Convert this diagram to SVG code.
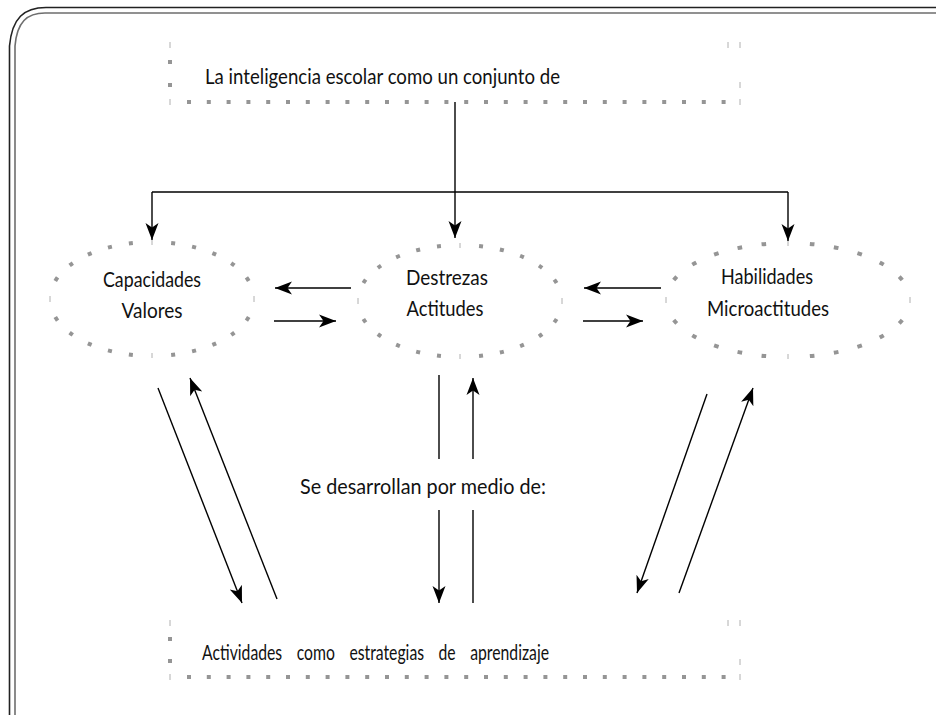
<svg xmlns="http://www.w3.org/2000/svg" width="936" height="715" viewBox="0 0 936 715">
<style>
.txt{font-family:"Lato","Carlito","Liberation Sans",sans-serif;font-size:21px;fill:#111}
.dots{fill:none;stroke:#959595;stroke-width:4;stroke-linecap:butt}
.tick{stroke:#b0b0b0;stroke-width:1}
.sq{fill:#959595}
.con{fill:none;stroke:#000;stroke-width:1.4}
.arr{marker-end:url(#ah)}
</style>
<defs>
<marker id="ah" markerUnits="userSpaceOnUse" markerWidth="20" markerHeight="16" refX="17" refY="7" orient="auto">
<path d="M0,0.5 L17,7 L0,13.5 L4.5,7 Z" fill="#000"/>
</marker>
</defs>
<rect width="936" height="715" fill="#fff"/>
<g id="frame" fill="none">
<path d="M936,7.5 H46 C24,7.5 12,18 9.5,46 V715" stroke="#222" stroke-width="1.6"/>
<path d="M936,13 H45 C27,13 17,22 15,46 V715" stroke="#6e6e6e" stroke-width="1.6"/>
</g>
<g id="node-top">
<line class="tick" x1="170" y1="42" x2="170" y2="48"/>
<line class="tick" x1="728" y1="42" x2="728" y2="48"/>
<line class="tick" x1="740" y1="42" x2="740" y2="48"/>
<line class="tick" x1="740" y1="82" x2="740" y2="88"/>
<line class="tick" x1="170" y1="99" x2="170" y2="105"/>
<line class="tick" x1="740" y1="99" x2="740" y2="105"/>
<rect class="sq" x="168" y="60" width="4" height="4"/>
<rect class="sq" x="168" y="83" width="4" height="4"/>
<line class="dots" x1="187" y1="102" x2="726" y2="102" stroke-dasharray="4 15.8"/>
<text class="txt" x="205" y="84" textLength="355" lengthAdjust="spacingAndGlyphs">La inteligencia escolar como un conjunto de</text>
</g>
<g id="node-capacidades">
<path class="dots" pathLength="24" stroke-dasharray="0 0.905 0.19 0.81 0.19 0.81 0.19 0.81 0.19 0.81 0.19 0.905" d="M152,242 A102,57 0 0 1 254,299 A102,57 0 0 1 152,356 A102,57 0 0 1 50,299 A102,57 0 0 1 152,242 Z"/>
<line class="tick" x1="152" y1="240" x2="152" y2="245"/>
<line class="tick" x1="152" y1="353" x2="152" y2="358"/>
<line class="tick" x1="50" y1="296" x2="50" y2="302"/>
<line class="tick" x1="254" y1="296" x2="254" y2="302"/>
<text class="txt" x="103" y="287" textLength="98" lengthAdjust="spacingAndGlyphs">Capacidades</text>
<text class="txt" x="121.5" y="318" textLength="61" lengthAdjust="spacingAndGlyphs">Valores</text>
</g>
<g id="node-destrezas">
<path class="dots" pathLength="24" stroke-dasharray="0 0.905 0.19 0.81 0.19 0.81 0.19 0.81 0.19 0.81 0.19 0.905" d="M460,245 A102,56 0 0 1 562,301 A102,56 0 0 1 460,357 A102,56 0 0 1 358,301 A102,56 0 0 1 460,245 Z"/>
<line class="tick" x1="460" y1="243" x2="460" y2="248"/>
<line class="tick" x1="460" y1="354" x2="460" y2="359"/>
<line class="tick" x1="358" y1="298" x2="358" y2="304"/>
<line class="tick" x1="562" y1="298" x2="562" y2="304"/>
<text class="txt" x="406" y="285" textLength="82" lengthAdjust="spacingAndGlyphs">Destrezas</text>
<text class="txt" x="406.5" y="316" textLength="77" lengthAdjust="spacingAndGlyphs">Actitudes</text>
</g>
<g id="node-habilidades">
<path class="dots" pathLength="24" stroke-dasharray="0 0.905 0.19 0.81 0.19 0.81 0.19 0.81 0.19 0.81 0.19 0.905" d="M788,243 A122,57 0 0 1 910,300 A122,57 0 0 1 788,357 A122,57 0 0 1 666,300 A122,57 0 0 1 788,243 Z"/>
<line class="tick" x1="788" y1="241" x2="788" y2="246"/>
<line class="tick" x1="788" y1="354" x2="788" y2="359"/>
<line class="tick" x1="666" y1="297" x2="666" y2="303"/>
<line class="tick" x1="910" y1="297" x2="910" y2="303"/>
<text class="txt" x="721" y="284" textLength="92" lengthAdjust="spacingAndGlyphs">Habilidades</text>
<text class="txt" x="707" y="316" textLength="122" lengthAdjust="spacingAndGlyphs">Microactitudes</text>
</g>
<g id="node-bottom">
<line class="tick" x1="170" y1="620" x2="170" y2="626"/>
<line class="tick" x1="728" y1="620" x2="728" y2="626"/>
<line class="tick" x1="740" y1="620" x2="740" y2="626"/>
<line class="tick" x1="740" y1="659" x2="740" y2="665"/>
<line class="tick" x1="170" y1="674" x2="170" y2="680"/>
<line class="tick" x1="740" y1="674" x2="740" y2="680"/>
<rect class="sq" x="168" y="637" width="4" height="4"/>
<rect class="sq" x="168" y="659" width="4" height="4"/>
<line class="dots" x1="187" y1="677" x2="726" y2="677" stroke-dasharray="4 15.8"/>
<text class="txt" x="202" y="660" word-spacing="14" textLength="347" lengthAdjust="spacingAndGlyphs">Actividades como estrategias de aprendizaje</text>
</g>
<g id="label-middle">
<text class="txt" x="300" y="494" textLength="246" lengthAdjust="spacingAndGlyphs">Se desarrollan por medio de:</text>
</g>
<g id="connectors">
<line class="con arr" x1="455" y1="102" x2="455" y2="238"/>
<polyline class="con" points="152,192 788,192"/>
<line class="con arr" x1="152" y1="192" x2="152" y2="240"/>
<line class="con arr" x1="788" y1="192" x2="788" y2="241"/>
<line class="con arr" x1="351" y1="288" x2="275" y2="288"/>
<line class="con arr" x1="274" y1="321" x2="336" y2="321"/>
<line class="con arr" x1="661" y1="288" x2="584" y2="288"/>
<line class="con arr" x1="583" y1="321" x2="643" y2="321"/>
<line class="con arr" x1="158" y1="388" x2="242" y2="603"/>
<line class="con arr" x1="277" y1="599" x2="190" y2="378"/>
<line class="con" x1="439" y1="375" x2="439" y2="459"/>
<line class="con arr" x1="439" y1="510" x2="439" y2="603"/>
<line class="con" x1="473" y1="603" x2="473" y2="510"/>
<line class="con arr" x1="473" y1="459" x2="473" y2="378"/>
<line class="con arr" x1="707" y1="394" x2="637" y2="593"/>
<line class="con arr" x1="679" y1="593" x2="753" y2="388"/>
</g>
</svg>
